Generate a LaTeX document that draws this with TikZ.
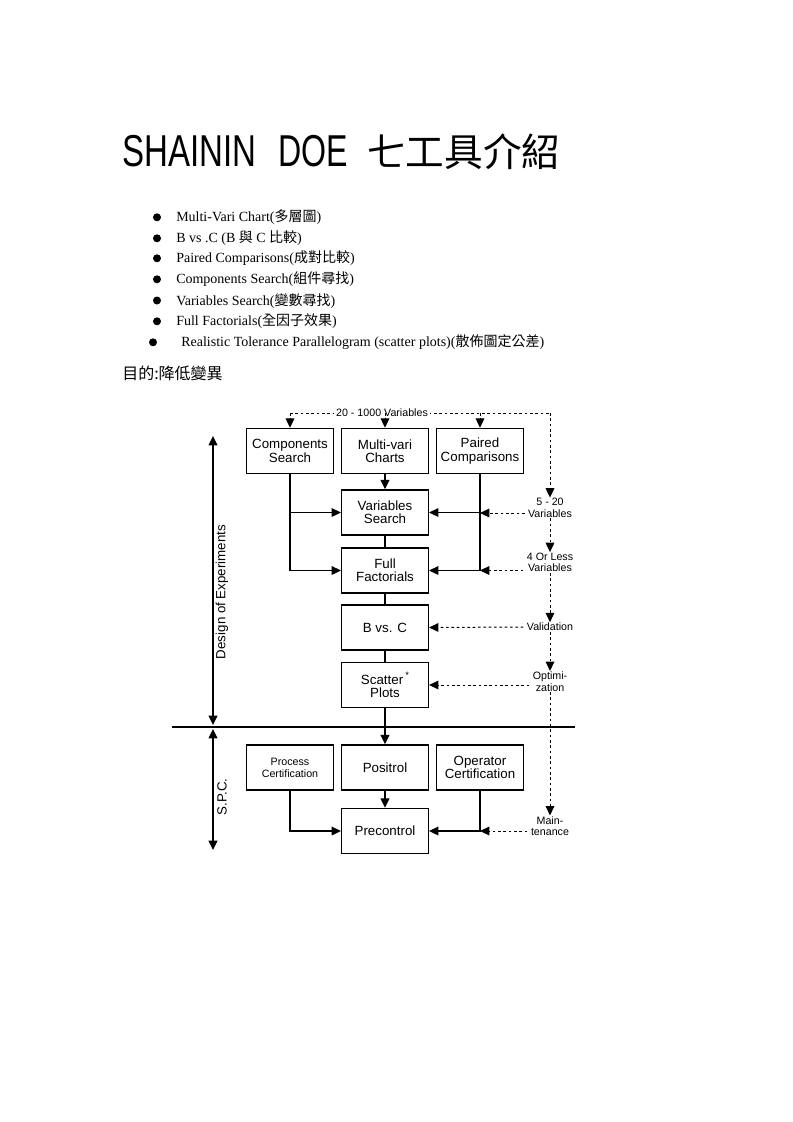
\documentclass[tikz,border=0pt]{standalone}
\usepackage{graphicx}
\usepackage{fontspec}
\setmainfont{Liberation Serif}
\newfontfamily\cjk{Noto Sans CJK TC}
\newfontfamily\hel{Liberation Sans}
\usetikzlibrary{arrows.meta}
\begin{document}
\begin{tikzpicture}[x=0.75pt,y=-0.75pt,
  box/.style={draw, line width=1.1pt, minimum width=65pt, minimum height=33.75pt, inner sep=1pt, align=center, font=\hel\fontsize{10}{10}\selectfont},
  flow/.style={line width=1.1pt,-{Triangle[length=7pt,width=6.5pt]}},
  link/.style={line width=1.1pt},
  dbl/.style={line width=1.1pt,{Triangle[length=7pt,width=6.5pt]}-{Triangle[length=7pt,width=6.5pt]}},
  dsh/.style={line width=0.75pt, dash pattern=on 2pt off 2pt},
  dflow/.style={dsh,-{Triangle[length=7pt,width=6.5pt]}},
  lab/.style={font=\hel\fontsize{8}{8.6}\selectfont, align=center, inner xsep=2.5pt, inner ysep=0.5pt},
  bul/.style={circle, fill, inner sep=0pt, minimum size=6pt},
  btxt/.style={anchor=base west, inner sep=0pt, font=\fontsize{10.5}{12}\selectfont},
  side/.style={rotate=90, inner sep=0pt, font=\hel\fontsize{10}{10}\selectfont},
]
\fill[white] (0,0) rectangle (793,1122);
\useasboundingbox (0,0) rectangle (793,1122);

% title
\node[anchor=base west, inner sep=0pt] (t1) at (122,166) {\scalebox{0.74}[1]{\hel\fontsize{33.5}{34}\selectfont SHAININ}};
\node[anchor=base west, inner sep=0pt] (t2) at (278,166) {\scalebox{0.72}[1]{\hel\fontsize{33.5}{34}\selectfont DOE}};
\node[anchor=base west, inner sep=0pt, font=\cjk\fontsize{29}{30}\selectfont] (t3) at (367,166) {七工具介紹};

% bullets
\node[bul] (b1) at (157,217.3) {};
\node[btxt] (i1) at (176,221.8) {Multi-Vari Chart({\cjk 多層圖})};
\node[bul] (b2) at (157,238.3) {};
\node[btxt] (i2) at (176,242.8) {B vs .C (B {\cjk 與} C {\cjk 比較})};
\node[bul] (b3) at (157,258.3) {};
\node[btxt] (i3) at (176,262.8) {Paired Comparisons({\cjk 成對比較})};
\node[bul] (b4) at (157,279.3) {};
\node[btxt] (i4) at (176,283.8) {Components Search({\cjk 組件尋找})};
\node[bul] (b5) at (157,300.5) {};
\node[btxt] (i5) at (176,305) {Variables Search({\cjk 變數尋找})};
\node[bul] (b6) at (157,321.3) {};
\node[btxt] (i6) at (176,325.8) {Full Factorials({\cjk 全因子效果})};
\node[bul] (b7) at (153,342.3) {};
\node[btxt] (i7) at (181,346.8) {Realistic Tolerance Parallelogram (scatter plots)({\cjk 散佈圖定公差})};

\node[anchor=base west, inner sep=0pt, font=\cjk\fontsize{12}{12}\selectfont] (purp) at (122,379) {目的:降低變異};

% boxes
\node[box] (cs) at (290,451) {Components\\Search};
\node[box] (mv) at (385,451) {Multi-vari\\Charts};
\node[box] (pc) at (480,451) {Paired\\Comparisons};
\node[box] (vs) at (385,512.5) {Variables\\Search};
\node[box] (ff) at (385,570.5) {Full\\Factorials};
\node[box] (bc) at (385,627.5) {B vs. C};
\node[box] (sc) at (385,685) {Scatter\,\raisebox{0.45em}{\fontsize{7}{7}\selectfont *}\\Plots};
\node[box, font=\hel\fontsize{8}{9}\selectfont] (prc) at (290,767.5) {Process\\Certification};
\node[box] (pos) at (385,767.5) {Positrol};
\node[box] (oc) at (480,767.5) {Operator\\Certification};
\node[box] (pre) at (385,831) {Precontrol};

% separator and side arrows
\coordinate (hl) at (172,727);
\coordinate (hr) at (575,727);
\draw[line width=1.2pt] (hl) -- (hr);
\coordinate (d1) at (213,436);
\coordinate (d2) at (213,725);
\coordinate (s1) at (213,729);
\coordinate (s2) at (213,850);
\draw[dbl] (d1) -- (d2);
\draw[dbl] (s1) -- (s2);
\node[side] (doe) at (222,592) {Design of Experiments};
\node[side] (spc) at (222,797) {S.P.C.};

% top dashed line
\coordinate (tl) at (290,413);
\coordinate (tr) at (550,413);
\draw[dsh] (tl) -- (tr);
\node[lab, fill=white, inner sep=1.5pt] (v1000) at (382,413) {20 - 1000 Variables};
\draw[dflow] (tl) -- (cs.north);
\draw[dflow] (mv.north |- tl) -- (mv.north);
\draw[dflow] (pc.north |- tl) -- (pc.north);

% right labels
\node[lab] (l1) at (550,508) {5 - 20\\Variables};
\node[lab] (l2) at (550,562.5) {4 Or Less\\Variables};
\node[lab] (l3) at (550,627) {Validation};
\node[lab] (l4) at (550,681.5) {Optimi-\\zation};
\node[lab] (l5) at (550,826) {Main-\\tenance};
\draw[dflow] (tr) -- (l1.north);
\draw[dflow] (l1.south) -- (l2.north);
\draw[dflow] (l2.south) -- (l3.north);
\draw[dflow] (l3.south) -- (l4.north);
\draw[dflow] (l4.south) -- (l5.north);

\coordinate (h1) at (480,513);
\draw[dflow] (l1.west |- h1) -- (h1);
\draw[dflow] (l2.west |- ff.east) -- (pc.south |- ff.east);
\draw[dflow] (l3.west) -- (bc.east);
\draw[dflow] (l4.west |- sc.east) -- (sc.east);
\draw[dflow] (l5.west |- pre.east) -- (oc.south |- pre.east);

% solid flows
\draw[flow] (cs.south) |- (ff.west);
\draw[flow] (cs.south |- vs.west) -- (vs.west);
\draw[flow] (mv.south) -- (vs.north);
\draw[flow] (pc.south) |- (ff.east);
\draw[flow] (pc.south |- vs.east) -- (vs.east);
\draw[link] (vs.south) -- (ff.north);
\draw[link] (ff.south) -- (bc.north);
\draw[link] (bc.south) -- (sc.north);
\draw[flow] (sc.south) -- (pos.north);
\draw[flow] (pos.south) -- (pre.north);
\draw[flow] (prc.south) |- (pre.west);
\draw[flow] (oc.south) |- (pre.east);
\end{tikzpicture}
\end{document}
